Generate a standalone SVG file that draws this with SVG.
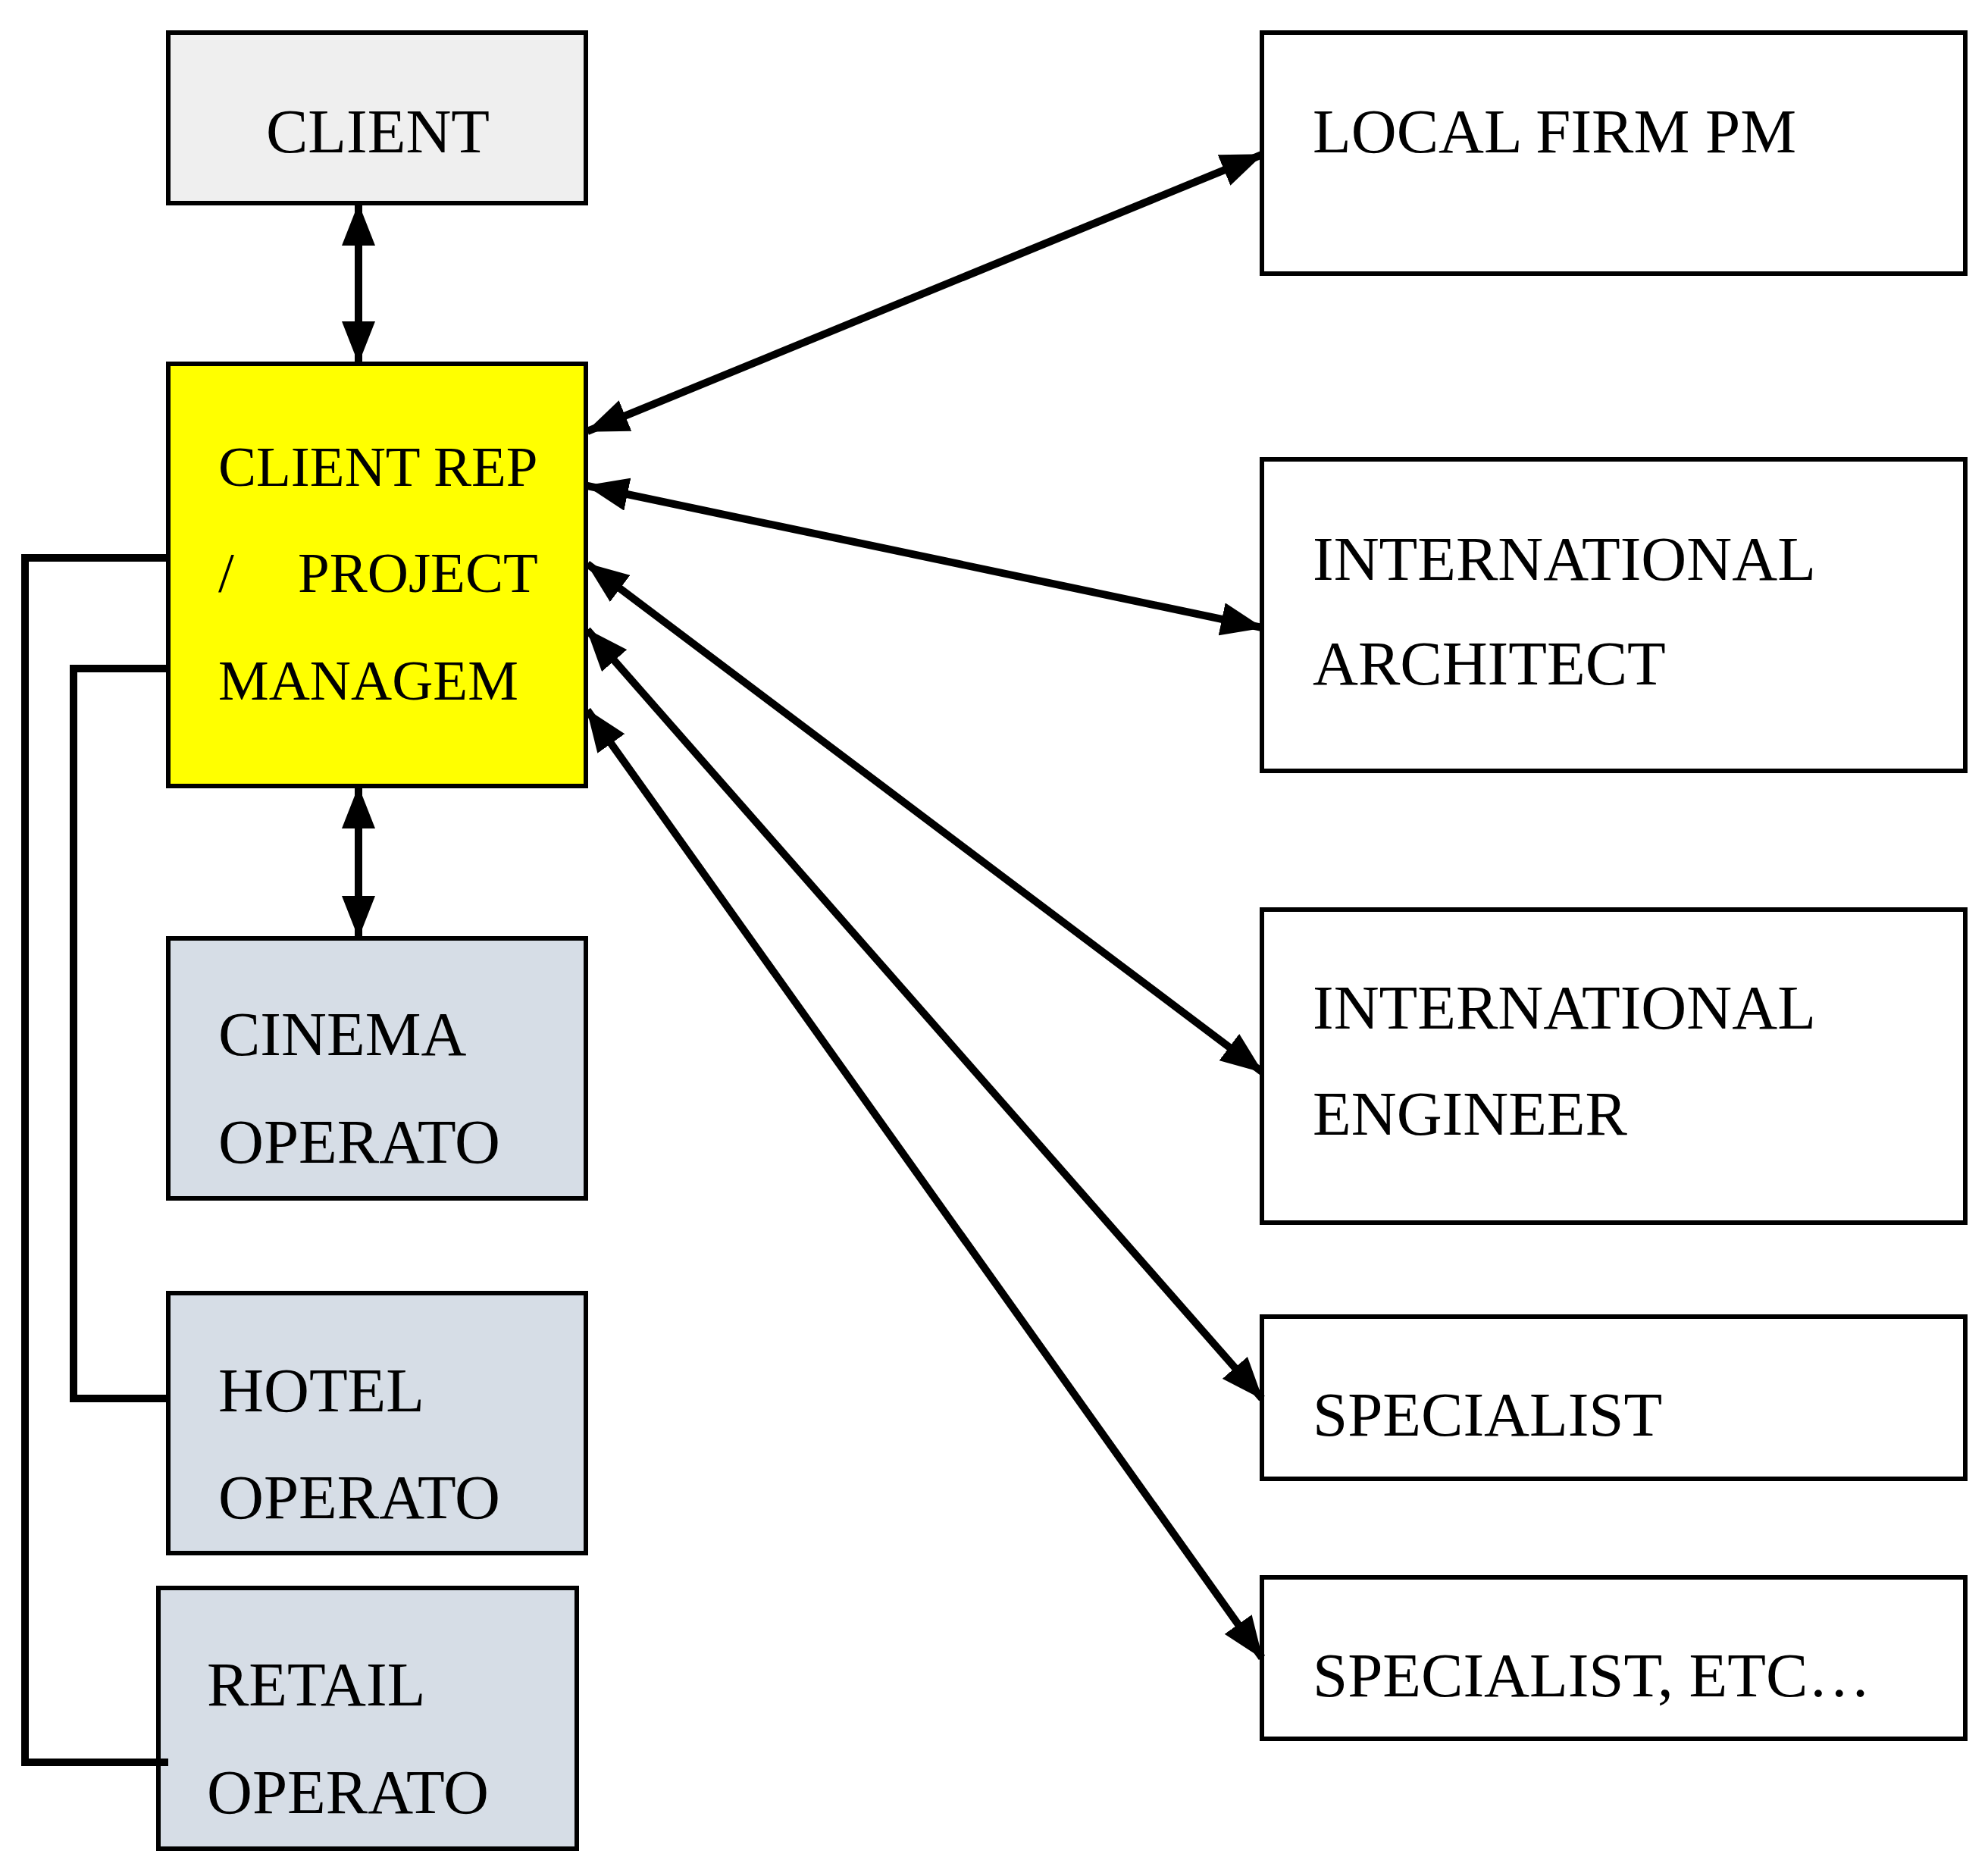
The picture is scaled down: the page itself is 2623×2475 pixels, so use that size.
<svg xmlns="http://www.w3.org/2000/svg" width="2623" height="2475" viewBox="0 0 2623 2475">
<style>
.b{stroke:#000;stroke-width:6}
text{font-family:"Liberation Serif",serif;font-size:83px;fill:#000}
.s{font-size:75px}
.c{fill:none;stroke:#000;stroke-width:10}
</style>
<defs>
<marker id="a" markerUnits="userSpaceOnUse" markerWidth="56" markerHeight="44" refX="54" refY="22" orient="auto-start-reverse"><path d="M0,0 L56,22 L0,44 Z" fill="#000"/></marker>
</defs>
<rect width="2623" height="2475" fill="#fff"/>
<g id="client"><rect class="b" x="222" y="43" width="551" height="225" fill="#efefef"/><text x="351" y="201">CLIENT</text></g>
<g id="rep"><rect class="b" x="222" y="480" width="551" height="557" fill="#ffff00"/><text class="s" x="288" y="641">CLIENT REP</text><text class="s" x="288" y="781">/</text><text class="s" x="393" y="781">PROJECT</text><text class="s" x="288" y="923">MANAGEM</text></g>
<g id="cinema"><rect class="b" x="222" y="1238" width="551" height="343" fill="#d6dde6"/><text x="288" y="1392">CINEMA</text><text x="288" y="1534">OPERATO</text></g>
<g id="hotel"><rect class="b" x="222" y="1706" width="551" height="343" fill="#d6dde6"/><text x="288" y="1862">HOTEL</text><text x="288" y="2003">OPERATO</text></g>
<g id="retail"><rect class="b" x="209" y="2095" width="552" height="344" fill="#d6dde6"/><text x="273" y="2250">RETAIL</text><text x="273" y="2392">OPERATO</text></g>
<g id="local"><rect class="b" x="1665" y="43" width="928" height="318" fill="#fff"/><text x="1732" y="201">LOCAL FIRM PM</text></g>
<g id="arch"><rect class="b" x="1665" y="606" width="928" height="411" fill="#fff"/><text x="1732" y="765">INTERNATIONAL</text><text x="1732" y="903">ARCHITECT</text></g>
<g id="eng"><rect class="b" x="1665" y="1200" width="928" height="413" fill="#fff"/><text x="1732" y="1357">INTERNATIONAL</text><text x="1732" y="1497">ENGINEER</text></g>
<g id="spec"><rect class="b" x="1665" y="1737" width="928" height="214" fill="#fff"/><text x="1732" y="1894">SPECIALIST</text></g>
<g id="specetc"><rect class="b" x="1665" y="2081" width="928" height="213" fill="#fff"/><text x="1732" y="2238">SPECIALIST, ETC…</text></g>
<g id="connectors">
<line class="c" x1="473" y1="270" x2="473" y2="478" marker-start="url(#a)" marker-end="url(#a)"/>
<line class="c" x1="473" y1="1039" x2="473" y2="1236" marker-start="url(#a)" marker-end="url(#a)"/>
<line class="c" x1="775" y1="569" x2="1665" y2="204" marker-start="url(#a)" marker-end="url(#a)"/>
<line class="c" x1="775" y1="641" x2="1665" y2="828" marker-start="url(#a)" marker-end="url(#a)"/>
<line class="c" x1="775" y1="744" x2="1665" y2="1414" marker-start="url(#a)" marker-end="url(#a)"/>
<line class="c" x1="775" y1="831" x2="1665" y2="1845" marker-start="url(#a)" marker-end="url(#a)"/>
<line class="c" x1="775" y1="937" x2="1665" y2="2187" marker-start="url(#a)" marker-end="url(#a)"/>
<polyline class="c" points="222,736 33,736 33,2325 222,2325"/>
<polyline class="c" points="222,882 97,882 97,1845 222,1845"/>
</g>
</svg>
